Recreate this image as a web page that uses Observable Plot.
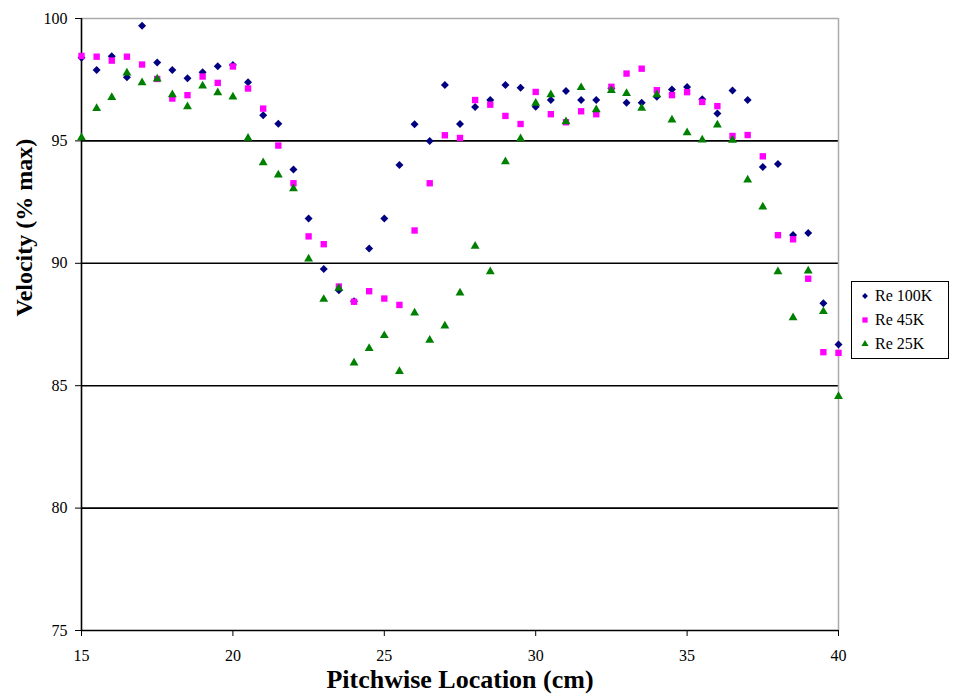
<!DOCTYPE html>
<html>
<head>
<meta charset="utf-8">
<script src="https://cdn.jsdelivr.net/npm/d3@7"></script>
<script src="https://cdn.jsdelivr.net/npm/@observablehq/plot@0.6"></script>
<style>
  body { margin: 0; background: #fff; }
  #wrap { position: relative; width: 953px; height: 699px; }
  #legend {
    position: absolute; left: 851px; top: 281px; width: 98px; height: 78px;
    border: 1px solid #000; box-sizing: border-box; background: #fff;
    font-family: "Liberation Serif", "Times New Roman", serif; font-size: 16px;
    padding: 2px 0 0 8px;
  }
  #legend .row { height: 24px; line-height: 24px; display: flex; align-items: center; }
  #legend svg { margin-right: 5px; }
</style>
</head>
<body>
<div id="wrap"><div id="chart"></div><div id="legend"></div></div>
<script>
const xValues = [15,15.5,16,16.5,17,17.5,18,18.5,19,19.5,20,20.5,21,21.5,22,22.5,23,23.5,24,24.5,25,25.5,26,26.5,27,27.5,28,28.5,29,29.5,30,30.5,31,31.5,32,32.5,33,33.5,34,34.5,35,35.5,36,36.5,37,37.5,38,38.5,39,39.5,40];
const re100K = [98.4,97.9,98.46,97.6,99.7,98.2,97.9,97.56,97.8,98.05,98.1,97.4,96.05,95.7,93.83,91.83,89.77,88.9,88.45,90.6,91.83,94.02,95.68,95.0,97.28,95.69,96.38,96.67,97.28,97.17,96.39,96.67,97.04,96.67,96.67,97.15,96.56,96.56,96.8,97.1,97.2,96.7,96.12,97.06,96.67,93.93,94.06,91.16,91.24,88.37,86.68];
const re45K = [98.47,98.44,98.28,98.44,98.12,97.53,96.73,96.87,97.63,97.37,98.04,97.14,96.32,94.81,93.27,91.1,90.78,89.05,88.43,88.86,88.56,88.3,91.34,93.27,95.23,95.12,96.67,96.48,96.02,95.69,97.0,96.09,95.76,96.21,96.09,97.21,97.75,97.95,97.07,96.87,96.99,96.59,96.42,95.2,95.24,94.37,91.15,90.98,89.37,86.37,86.34];
const re25K = [95.13,96.33,96.78,97.78,97.38,97.53,96.89,96.4,97.25,96.97,96.8,95.11,94.11,93.61,93.05,90.18,88.53,88.98,85.93,86.52,87.05,85.58,87.97,86.86,87.44,88.79,90.7,89.66,94.15,95.09,96.54,96.89,95.79,97.18,96.28,97.06,96.94,96.34,96.89,95.86,95.34,95.04,95.65,95.03,93.41,92.3,89.66,87.78,89.69,88.03,84.56];
const seriesNames = ["Re 100K", "Re 45K", "Re 25K"];
const seriesColors = ["#000080", "#ff00ff", "#008000"];
const seriesSymbols = ["diamond2", "square", "triangle"];
const xTicks = [15,20,25,30,35,40];
const yTicks = [75,80,85,90,95,100];
const gridBlack = [75,80,85,90,95];

const seriesValues = [re100K, re45K, re25K];
const data = [];
seriesValues.forEach((vals, si) => vals.forEach((v, i) => {
  data.push({x: xValues[i], y: v, s: seriesNames[si]});
}));

const font = '"Liberation Serif", "Times New Roman", serif';
const chart = Plot.plot({
  width: 953, height: 699,
  marginLeft: 81, marginRight: 115, marginTop: 18, marginBottom: 69,
  style: {fontFamily: font, fontSize: "15px", background: "#fff", color: "#000"},
  x: {domain: [15, 40]},
  y: {domain: [75, 100]},
  marks: [
    Plot.ruleY(gridBlack, {stroke: "#000", strokeWidth: 1.6}),
    Plot.ruleY([100], {stroke: "#aaa", strokeWidth: 1.5}),
    Plot.ruleX([40], {stroke: "#aaa", strokeWidth: 1.5}),
    Plot.ruleX([15], {stroke: "#000", strokeWidth: 1.6}),
    Plot.axisX({ticks: xTicks, tickSize: 6, tickPadding: 13, label: null, tickFormat: d => String(d), fontSize: 16}),
    Plot.axisY({ticks: yTicks, tickSize: 6, tickPadding: 8, label: null, tickFormat: d => String(d), fontSize: 16}),
    ...seriesNames.map((name, si) => Plot.dot(data.filter(d => d.s === name), {
      x: "x", y: "y", symbol: () => seriesSymbols[si], fill: seriesColors[si], stroke: "none",
      r: si === 1 ? 3.6 : si === 0 ? 3.6 : 3.3
    })),
    Plot.text(["Pitchwise Location (cm)"], {frameAnchor: "bottom", dy: 57, fontSize: 26, fontWeight: "bold", fill: "#000"}),
    Plot.text(["Velocity (% max)"], {frameAnchor: "left", rotate: -90, dx: -57, dy: -8, fontSize: 24, fontWeight: "bold", fill: "#000"})
  ]
});
document.getElementById("chart").appendChild(chart);

// legend
const legend = d3.select("#legend");
seriesNames.forEach((name, si) => {
  const row = legend.append("div").attr("class", "row");
  const sv = row.append("svg").attr("width", 10).attr("height", 10);
  sv.append("path")
    .attr("transform", "translate(5,5)")
    .attr("d", d3.symbol(si === 0 ? d3.symbolDiamond2 : si === 1 ? d3.symbolSquare : d3.symbolTriangle, si === 1 ? 28 : 22)())
    .attr("fill", seriesColors[si]);
  row.append("span").text(name);
});
</script>
</body>
</html>
